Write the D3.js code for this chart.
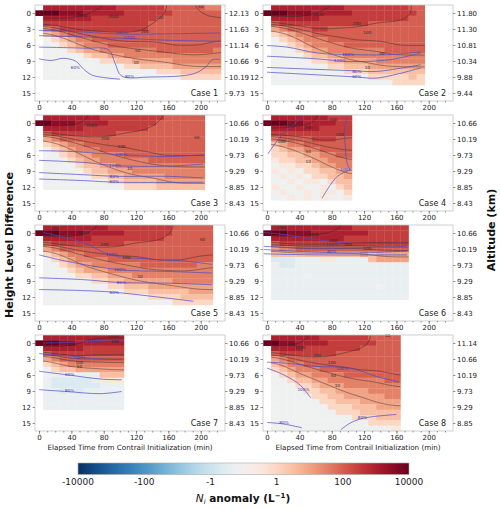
<!DOCTYPE html>
<html>
<head>
<meta charset="utf-8">
<script src="https://cdn.jsdelivr.net/npm/d3@7"></script>
<style>
  body { margin: 0; background: #fff; }
  svg { display: block; font-family: "DejaVu Sans", sans-serif; }
</style>
</head>
<body>
<svg id="chart" width="500" height="509"></svg>
<script>
// one column every 10 min (first column t=0), one row per height level (first row = -1)
// tokens: _ no data, . ~0, , 0.5, - -0.3, = -0.7, digit c -> 10^(c/2) per litre
const case1Grid = [
  "_ 6 6 6 6 6 6 6 6 6 5 5 5 5 5 5 4 4 4 4 4 3 3",
  "8 8 8 7 7 7 6 6 6 6 6 5 5 5 5 5 5 4 4 4 4 4 4",
  "_ 6 6 6 6 6 6 5 5 5 5 5 5 5 5 4 4 4 4 4 4 4 4",
  "_ 5 5 5 5 5 5 5 5 5 5 5 5 5 4 4 4 4 4 4 4 4 4",
  "_ 3 4 5 5 5 5 5 5 5 5 5 5 5 4 4 4 4 4 4 4 4 4",
  "_ 1 2 3 4 4 4 4 4 4 4 4 4 4 4 4 4 4 4 4 4 4 4",
  "_ . 0 1 2 3 3 4 4 4 4 4 4 4 4 4 4 4 4 4 4 4 4",
  "_ . . 0 1 2 3 3 3 4 4 4 4 4 4 4 4 4 4 4 4 4 4",
  "_ . . . 0 1 2 2 3 3 3 3 3 3 3 4 4 4 4 4 4 4 3",
  "_ . . . . . 0 1 1 2 2 3 3 3 3 3 3 3 3 3 3 3 3",
  "_ . . . . . . . 0 0 1 1 2 2 2 2 2 3 3 3 3 3 3",
  "_ . . . . . . . . . . 0 0 1 1 1 1 2 2 2 2 2 2",
  "_ . . . . . . . . . . . . . . 0 0 0 1 1 1 1 1",
  "_ . . . . . . . . . . . . . . . . . 0 0 0 0 0"
];
const case2Grid = [
  "_ 6 6 6 6 6 6 6 6 6 5 5 5 5 5 5 5 5 4 4",
  "8 8 8 7 7 7 6 6 6 6 6 5 5 5 5 5 5 5 5 4",
  "_ 6 6 6 6 6 6 5 5 5 5 5 5 5 5 5 5 5 4 4",
  "_ 4 5 5 5 5 5 5 5 5 5 5 5 4 4 4 4 4 4 4",
  "_ 2 3 4 4 4 5 5 4 4 4 4 4 4 4 4 4 4 4 4",
  "_ 0 1 2 3 3 4 4 4 4 4 4 4 4 4 4 4 4 4 4",
  "_ . 0 1 2 3 3 3 4 4 4 4 4 4 4 4 4 4 4 4",
  "_ . . 0 1 2 3 3 3 3 4 4 4 4 4 4 4 4 4 4",
  "_ . . . 0 1 2 2 3 3 3 3 3 3 3 4 4 4 4 4",
  "_ . . . . 0 1 1 2 2 3 3 3 3 3 3 3 3 3 3",
  "_ . . . . . 0 0 1 1 2 2 2 2 3 3 3 3 3 3",
  "_ . . . . . . . 0 0 1 1 1 2 2 2 2 2 2 2",
  "_ . . . . . . . . . 0 0 0 1 1 1 1 1 1 1",
  "_ . . . . . . . . . . . . 0 0 0 0 0 1 0",
  "_ . . . . . . . . . . . . . . . 0 0 0 0"
];
const case3Grid = [
  "_ 6 6 6 6 6 6 6 5 5 5 5 5 5 5 5 4 4 4 4 4",
  "8 8 7 7 7 6 6 6 6 5 5 5 5 5 5 4 4 4 4 4 4",
  "_ 6 6 6 6 6 5 5 5 5 5 5 5 5 4 4 4 4 4 4 4",
  "_ 4 5 5 5 5 5 5 5 5 4 4 4 4 4 4 4 4 4 4 4",
  "_ 2 3 4 4 4 4 4 4 4 4 4 4 4 4 4 4 4 4 4 4",
  "_ 0 1 2 3 3 4 4 4 4 4 4 4 4 4 4 4 4 4 4 4",
  "_ . 0 1 2 3 3 3 4 4 4 4 4 4 4 4 4 4 4 4 4",
  "_ . . 0 1 2 2 3 3 3 3 4 4 4 4 4 4 4 4 4 4",
  "_ . . . 0 1 2 2 3 3 3 3 3 3 4 4 4 4 4 4 4",
  "_ . . . . 0 1 1 2 2 3 3 3 3 3 3 3 3 3 3 3",
  "_ . . . . . 0 1 1 2 2 2 3 3 3 3 3 3 3 3 3",
  "_ . . . . . . 0 0 1 1 2 2 2 2 2 3 3 3 3 3",
  "_ . . . . . . . . 0 0 1 1 1 1 2 2 2 2 2 2",
  "_ . . . . . . . . . . 0 0 0 0 1 1 1 1 1 1"
];
const case4Grid = [
  "_ 6 6 6 6 6 6 6 5 5 5",
  "8 8 8 7 7 6 6 6 6 5 5",
  "_ 6 6 6 6 6 6 5 5 5 5",
  "_ 5 5 5 5 5 5 5 5 5 5",
  "_ 3 4 4 4 4 5 5 5 4 4",
  "_ 1 2 3 3 4 4 4 4 4 4",
  "_ 0 1 2 2 3 3 4 4 4 4",
  "_ 0 0 1 1 2 2 3 3 4 4",
  "_ , 0 0 1 1 2 2 3 3 3",
  "_ . , , 0 0 1 2 2 3 3",
  "_ , . , . 0 0 1 1 2 2",
  "_ . , . , . 0 0 1 1 2",
  "_ . . , . , , . 0 1 1",
  "_ , . . , . . , . 0 1",
  "_ . , . . , . , , . 0",
  "_ . . , . , . , . . ,"
];
const case5Grid = [
  "_ 6 6 6 6 6 6 6 6 5 5 5 5 5 5 5 5 4 4 4 4 4",
  "8 8 8 7 7 7 6 6 6 6 6 5 5 5 5 5 5 4 4 4 4 4",
  "_ 6 6 6 6 6 6 5 5 5 5 5 5 5 5 5 4 4 4 4 4 4",
  "_ 4 5 5 5 5 5 5 5 5 5 4 4 4 4 4 4 4 4 4 4 4",
  "_ 2 3 4 4 4 4 4 4 4 4 4 4 4 4 4 4 4 4 4 4 4",
  "_ 0 1 2 3 3 4 4 4 4 4 4 4 4 4 4 4 4 4 4 4 4",
  "_ . 0 1 2 3 3 3 3 4 4 4 4 4 4 4 4 4 4 4 4 4",
  "_ . . 0 1 2 2 3 3 3 3 3 3 4 4 4 4 4 4 4 3 3",
  "_ . . . 0 1 2 2 2 3 3 3 3 3 3 3 3 3 3 3 3 3",
  "_ . . . . 0 0 1 1 2 2 2 3 3 3 3 3 3 3 3 3 3",
  "_ . . . . . . 0 0 1 1 2 2 2 2 2 2 3 3 3 3 3",
  "_ . . . . . . . . 0 0 1 1 1 2 2 2 2 2 2 2 2",
  "_ . . . . . . . . . . 0 0 0 1 1 1 1 1 2 2 2",
  "_ . . . . . . . . . . . . . 0 0 0 0 1 1 1 1",
  "_ . . . . . . . . . . . . . . . . 0 0 0 0 0"
];
const case6Grid = [
  "_ 6 6 6 6 6 6 6 6 6 6 5 5 5 5 5 5 5",
  "8 8 8 7 7 7 6 6 6 6 6 6 6 5 5 5 5 5",
  "_ 6 6 6 6 6 6 6 6 6 5 5 5 5 5 5 5 5",
  "_ 4 5 5 5 5 5 5 5 5 5 5 5 5 5 5 5 5",
  "_ 2 3 3 4 4 4 4 4 4 4 4 4 4 4 4 4 4",
  "_ 1 1 1 1 1 1 1 1 1 1 1 2 1 2 2 2 2",
  "_ = = = - - - , , - - - - 1 2 2 2 2",
  "_ - = = - - - - - - - - - - - - - -",
  "_ - - - - - - - - - - - - - - - - -",
  "_ - - - - . - - - - - - - - - - - -",
  "_ - - - - - - - - - - - - - - - - -",
  "_ - - - - - - - - - - - - - . - - -",
  "_ - - - - - - - - - - - - - - - - -",
  "_ - - - - - - - - - - - - - - - - -"
];
const case7Grid = [
  "_ 6 6 6 6 6 6 6 6 6 6",
  "8 8 8 7 7 6 6 6 6 6 6",
  "_ 6 6 6 6 6 5 5 5 5 5",
  "_ 4 5 5 5 5 5 5 5 5 5",
  "_ 2 3 4 4 4 4 4 4 4 4",
  "_ 0 1 2 3 3 3 3 3 3 3",
  "_ . 0 1 1 2 2 2 2 2 2",
  "_ . - - - - - - 1 1 1",
  "_ - = = = = = - , , ,",
  "_ - = = = = = = - - -",
  "_ - - = - = - - - - -",
  "_ - - - - - - - - - -",
  "_ - - - - - - - - - -",
  "_ - - - - - - - - - -"
];
const case8Grid = [
  "_ 6 6 6 6 6 6 5 5 5 5 5 5 4 4 4 4",
  "8 8 7 7 6 6 6 6 5 5 5 5 5 5 4 4 4",
  "_ 6 6 6 6 5 5 5 5 5 5 5 4 4 4 4 4",
  "_ 4 5 5 5 5 5 5 5 4 4 4 4 4 4 4 4",
  "_ 2 3 4 4 4 4 4 4 4 4 4 4 4 4 4 4",
  "_ 1 2 3 3 4 4 4 4 4 4 4 4 4 4 4 4",
  "_ 0 1 2 3 3 3 4 4 4 4 4 4 4 4 4 4",
  "_ . 0 1 2 2 3 3 3 3 4 4 4 4 4 4 4",
  "_ . . 0 1 1 2 2 3 3 3 3 3 3 3 4 4",
  "_ . . . 0 0 1 2 2 2 3 3 3 3 3 3 3",
  "_ . . . . 0 0 1 1 2 2 2 2 3 3 3 3",
  "_ . . . . . 0 0 1 1 2 2 2 2 2 3 3",
  "_ . . . . . . 0 0 1 1 1 2 2 2 2 2",
  "_ . . . . . . . 0 0 0 1 1 1 2 2 2",
  "_ . . . . . . . . 0 0 0 1 1 1 1 1",
  "_ . . . . . . . . . . 0 0 0 1 1 1",
  "_ . . . . . . . . . . . . 0 0 0 0",
  "_ . . . . . . . . . . . . . . . ,"
];

// altitude (km) at height levels 0, 3, 6, 9, 12, 15
const case1Alt = ["12.13", "11.63", "11.14", "10.66", "10.19", "9.73"];
const case2Alt = ["11.80", "11.30", "10.81", "10.34", "9.88", "9.44"];
const lowAlt = ["10.66", "10.19", "9.73", "9.29", "8.85", "8.43"];
const case8Alt = ["11.14", "10.66", "10.19", "9.73", "9.29", "8.85"];

// RHi contours, [time (min), height level]
const case1Rhi = [
  [[0, 3.25], [34, 3.4], [102, 3.95], [158, 3.9], [224, 3.75]],
  [[0, 4.25], [55, 4.5], [112, 4.8], [158, 5.1], [224, 5.3]],
  [[0, 6.4], [55, 6.6], [86, 6.9], [94, 9.4], [102, 11.8], [137, 12.0], [191, 11.4], [207, 10], [214, 8.75], [224, 8.7]],
  [[0, 8.6], [15, 8.9], [30, 8.5], [45, 9.0], [55, 10.5], [65, 11.6], [80, 12.1], [100, 12.4]]
];
const case2Rhi = [
  [[0, 6.1], [25, 6.4], [62, 7.5], [103, 7.8], [152, 7.8], [190, 7.3]],
  [[0, 8.1], [62, 8.6], [103, 9.1], [152, 8.75], [190, 7.5]],
  [[0, 10.2], [41, 10.45], [103, 10.8], [136, 10.95], [190, 9.7]],
  [[0, 11.1], [62, 11.6], [111, 12.0], [136, 12.2], [190, 10.3]]
];
const case3Rhi = [
  [[0, 5.2], [34, 5.3], [102, 5.95], [158, 6.3], [203, 5.95]],
  [[0, 7.0], [55, 7.4], [96, 8.0], [158, 8.1], [203, 7.7]],
  [[0, 9.3], [55, 9.7], [96, 10.0], [158, 10.0], [203, 10.3]],
  [[0, 10.5], [55, 10.8], [96, 11.1], [203, 11.1]]
];
const case4Rhi = [
  [[1, 5.8], [18.5, 2.2], [33, 0.3], [45, -1.3]],
  [[99, -1.25], [96, 1.25], [97, 5.0], [99, 7.5], [103, 8.8]],
  [[103, 8.8], [87, 10.0], [68, 14.1]]
];
const case5Rhi = [
  [[5, -0.1], [55, 1.8], [88, 4.1], [137, 4.9], [183, 5.3], [214, 5.9]],
  [[0, 4.1], [34, 5.3], [100, 6.9], [158, 7.2], [214, 7.5]],
  [[0, 8.4], [55, 8.75], [102, 9.3], [158, 9.4], [214, 9.7]],
  [[0, 10.6], [55, 10.8], [92, 11.1], [141, 11.9], [191, 12.8]]
];
const case6Rhi = [
  [[-4, -0.1], [21, 0.3], [62, 1.25], [103, 1.9], [173, 1.9]],
  [[-4, 2.5], [41, 2.8], [103, 2.8], [173, 2.5]],
  [[-4, 3.1], [62, 3.6], [103, 3.75], [173, 3.4]],
  [[-4, 3.9], [62, 4.1], [173, 4.1]]
];
const case7Rhi = [
  [[5, 0], [34, -0.1], [76, -0.5], [105, -0.6]],
  [[0, 2.0], [34, 2.4], [76, 3.0], [102, 3.1]],
  [[0, 5.3], [34, 5.95], [76, 6.75], [102, 6.9]],
  [[0, 8.75], [34, 9.1], [76, 9.5], [102, 9.1]]
];
const case8Rhi = [
  [[0, 3.6], [21, 3.75], [62, 4.4], [103, 4.7], [136, 6.3], [163, 7.3]],
  [[0, 4.7], [21, 6.0], [41, 7.9], [54, 10.3]],
  [[0, 14.9], [21, 15.2], [43, 15.9]],
  [[91, 16.3], [103, 15.0], [119, 14.1], [160, 13.4]]
];

// inline contour labels: [time, level, text, k = Ni / b = RHi]
const case1Labels = [[53, 0.4, "1000", "k"], [92, 0.7, "2000", "k"], [149, 0.9, "100", "k"], [200, -1.2, "50", "k"],
  [131, 3.5, "200", "k"], [102, 3.6, "100%", "b"], [112, 4.6, "120%", "b"], [122, 7.0, "50", "k"],
  [120, 9.2, "10", "k"], [112, 11.9, "80%", "b"], [45, 10.3, "60%", "b"]];
const case2Labels = [[63, 0.3, "1000", "k"], [111, 2, "200", "k"], [124, 3.6, "100", "k"], [142, 7.6, "50", "k"],
  [124, 10.2, "10", "k"], [100, 7.8, "100%", "b"], [90, 9, "120%", "b"], [111, 10.9, "80%", "b"], [111, 12, "60%", "b"]];
const case3Labels = [[65, 0.5, "1000", "k"], [82, 2.9, "200", "k"], [102, 4.4, "100", "k"], [195, 2.7, "50", "k"],
  [102, 6.0, "100%", "b"], [94, 8, "120%", "b"], [112, 8.6, "10", "k"], [93, 10, "80%", "b"], [93, 10.9, "60%", "b"]];
const case4Labels = [[29, 0.5, "1000", "k"], [51, 0.9, "200", "k"], [82, -0.6, "100", "k"], [90, 2.2, "200", "k"],
  [18, 3.4, "100", "k"], [51, 5.4, "50", "k"], [51, 7.3, "10", "k"], [98, 8.7, "100%", "b"]];
const case5Labels = [[20, -0.8, "200", "k"], [55, 0, "1000", "k"], [81, 2.2, "200", "k"], [90, 4.0, "100%", "b"],
  [108, 4.6, "100", "k"], [202, 1.3, "50", "k"], [100, 6.9, "100%", "b"], [125, 8.1, "10", "k"],
  [102, 9.3, "80%", "b"], [93, 11.1, "60%", "b"]];
const case6Labels = [[18, -1.0, "200", "k"], [58, 0.2, "1000", "k"], [82, 1.4, "200", "k"], [124, 3.0, "100", "k"],
  [80, 2.2, "100%", "b"], [80, 3.4, "80%", "b"], [100, 2.2, "200", "k"]];
const case7Labels = [[92, -1.2, "1000", "k"], [94, -0.3, "100", "k"], [40, 0.3, "1000", "k"], [66, -0.3, "100%", "b"],
  [50, 2.8, "100%", "b"], [50, 3.6, "100", "k"], [50, 4.4, "50", "k"], [38, 5.9, "60%", "b"], [38, 9.0, "80%", "b"]];
const case8Labels = [[31, 0.3, "200", "k"], [41, 0.8, "1000", "k"], [62, 2.4, "200", "k"], [80, 3.6, "100", "k"],
  [82, 6.1, "50", "k"], [87, 7.9, "10", "k"], [149, -1.4, "10", "k"], [93, 4.7, "100%", "b"],
  [45, 8.8, "100%", "b"], [21, 15.0, "80%", "b"], [118, 14.0, "80%", "b"]];

const contourLevels = [10, 50, 100, 200, 1000];
const levelTicks = [0, 3, 6, 9, 12, 15];
const timeTicks = [0, 40, 80, 120, 160, 200];
const cbTicks = ["-10000", "-100", "-1", "1", "100", "10000"];

const panels = [
  { name: "Case 1", grid: case1Grid, alt: case1Alt, rhi: case1Rhi, labels: case1Labels },
  { name: "Case 2", grid: case2Grid, alt: case2Alt, rhi: case2Rhi, labels: case2Labels },
  { name: "Case 3", grid: case3Grid, alt: lowAlt, rhi: case3Rhi, labels: case3Labels },
  { name: "Case 4", grid: case4Grid, alt: lowAlt, rhi: case4Rhi, labels: case4Labels },
  { name: "Case 5", grid: case5Grid, alt: lowAlt, rhi: case5Rhi, labels: case5Labels },
  { name: "Case 6", grid: case6Grid, alt: lowAlt, rhi: case6Rhi, labels: case6Labels },
  { name: "Case 7", grid: case7Grid, alt: lowAlt, rhi: case7Rhi, labels: case7Labels },
  { name: "Case 8", grid: case8Grid, alt: case8Alt, rhi: case8Rhi, labels: case8Labels }
];

function decode(tok) {
  if (tok === undefined || tok === "_") return null;
  if (tok === ".") return -0.1;
  if (tok === ",") return 0.5;
  if (tok === "-") return -0.3;
  if (tok === "=") return -0.7;
  return Math.pow(10, +tok / 2);
}

// symlog-like position on the colour bar (0..1)
function cbPos(v) {
  if (v >= 1) return 0.6 + 0.1 * Math.log10(v);
  if (v <= -1) return 0.4 - 0.1 * Math.log10(-v);
  return 0.5 + 0.1 * v;
}
const color = v => d3.interpolateRdBu(1 - Math.max(0, Math.min(1, cbPos(v))));
const logCode = v => (v !== null && v >= 1) ? 2 * Math.log10(v) : -1;

const svg = d3.select("#chart");
const defs = svg.append("defs");

const PW = 190, PH = 96;

panels.forEach((p, i) => {
  const col = i % 2, row = Math.floor(i / 2);
  const x0 = col ? 263 : 35, y0 = 5 + 110 * row;
  const x = d3.scaleLinear().domain([-5, 230]).range([x0, x0 + PW]);
  const y = d3.scaleLinear().domain([-1.5, 16.5]).range([y0, y0 + PH]);
  const g = svg.append("g");

  const rows = p.grid.map(s => s.trim().split(/\s+/));
  const cells = [];
  rows.forEach((toks, ri) => toks.forEach((tk, ci) => {
    const v = decode(tk);
    if (v !== null) cells.push({ t: ci * 10, lev: ri - 1, v });
  }));

  g.append("g").selectAll("rect").data(cells).join("rect")
    .attr("x", d => x(d.t - 5))
    .attr("y", d => y(d.lev - 0.5))
    .attr("width", x(10) - x(0) + 0.3)
    .attr("height", y(1) - y(0) + 0.3)
    .attr("fill", d => color(d.v));

  // Ni contours from the grid (t=0 column left out), edges padded so nothing runs along the border
  const nx = rows[0].length - 1, ny = rows.length;
  const vals = [];
  for (let k = 0; k < ny + 2; k++) {
    for (let c = 0; c < nx + 2; c++) {
      const ri = Math.min(ny - 1, Math.max(0, k - 1));
      const ci = 1 + Math.min(nx - 1, Math.max(0, c - 1));
      vals.push(logCode(decode(rows[ri][ci])));
    }
  }
  if (d3.blur2) d3.blur2({ data: vals, width: nx + 2, height: ny + 2 }, 0.7);
  const conts = d3.contours().size([nx + 2, ny + 2])
    .thresholds(contourLevels.map(v => 2 * Math.log10(v) - 0.15))(vals);

  const proj = d3.geoTransform({
    point(gx, gy) { this.stream.point(x(10 * gx - 5), y(gy - 2.5)); }
  });
  const path = d3.geoPath(proj);

  defs.append("clipPath").attr("id", "cd" + i).append("rect")
    .attr("x", x(5)).attr("y", y(-1.5))
    .attr("width", x(10 * nx + 5) - x(5)).attr("height", y(ny - 1.5) - y(-1.5));
  defs.append("clipPath").attr("id", "cf" + i).append("rect")
    .attr("x", x0).attr("y", y0).attr("width", PW).attr("height", PH);

  g.append("g").attr("clip-path", `url(#cd${i})`)
    .selectAll("path").data(conts).join("path")
    .attr("d", path)
    .attr("fill", "none")
    .attr("stroke", "#2a2a2a")
    .attr("stroke-opacity", 0.8)
    .attr("stroke-width", 0.55)
    .attr("stroke-linejoin", "round");

  const line = d3.line().x(d => x(d[0])).y(d => y(d[1])).curve(d3.curveCatmullRom);
  g.append("g").attr("clip-path", `url(#cf${i})`)
    .selectAll("path").data(p.rhi).join("path")
    .attr("d", line)
    .attr("fill", "none")
    .attr("stroke", "#4b4bc8")
    .attr("stroke-width", 0.7);

  g.append("g").selectAll("text").data(p.labels).join("text")
    .attr("x", d => x(d[0])).attr("y", d => y(d[1]))
    .attr("dy", "0.35em")
    .attr("text-anchor", "middle")
    .attr("font-size", 4.2)
    .attr("fill", d => d[3] === "b" ? "#3c3cb4" : "#2a2a2a")
    .text(d => d[2]);

  g.append("rect")
    .attr("x", x0).attr("y", y0).attr("width", PW).attr("height", PH)
    .attr("fill", "none").attr("stroke", "#c4c4c4").attr("stroke-width", 0.8);

  const styleAxis = a => {
    a.select(".domain").remove();
    a.selectAll("line").attr("stroke", "#555").attr("stroke-width", 0.6);
    a.selectAll("text").attr("font-size", 7).attr("fill", "#222").attr("font-family", "DejaVu Sans");
  };

  g.append("g").attr("transform", `translate(${x0},0)`)
    .call(d3.axisLeft(y).tickValues(levelTicks).tickSize(2.5).tickPadding(1.5))
    .call(styleAxis);
  g.append("g").attr("transform", `translate(${x0 + PW},0)`)
    .call(d3.axisRight(y).tickValues(levelTicks).tickSize(2.5).tickPadding(1.5).tickFormat((d, k) => p.alt[k]))
    .call(styleAxis);
  g.append("g").attr("transform", `translate(0,${y0 + PH})`)
    .call(d3.axisBottom(x).tickValues(d3.range(0, 230, 10)).tickSize(1.5).tickFormat(""))
    .call(styleAxis);
  g.append("g").attr("transform", `translate(0,${y0 + PH})`)
    .call(d3.axisBottom(x).tickValues(timeTicks).tickSize(3).tickPadding(1.5))
    .call(styleAxis);

  g.append("text")
    .attr("x", x0 + PW - 7).attr("y", y0 + 91)
    .attr("text-anchor", "end")
    .attr("font-size", 8).attr("fill", "#222")
    .text(p.name);

  if (row === 3) {
    g.append("text")
      .attr("x", x0 + PW / 2).attr("y", 449.5)
      .attr("text-anchor", "middle")
      .attr("font-size", 7.2).attr("fill", "#222")
      .text("Elapsed Time from Contrail Initialization (min)");
  }
});

svg.append("text")
  .attr("transform", "translate(13,245) rotate(-90)")
  .attr("text-anchor", "middle")
  .attr("font-size", 11).attr("font-weight", "bold").attr("fill", "#111")
  .text("Height Level Difference");
svg.append("text")
  .attr("transform", "translate(495,230) rotate(-90)")
  .attr("text-anchor", "middle")
  .attr("font-size", 11).attr("font-weight", "bold").attr("fill", "#111")
  .text("Altitude (km)");

// colour bar
const cb = d3.scaleLinear().domain([0, 1]).range([78, 409]);
const grad = defs.append("linearGradient").attr("id", "cbgrad");
grad.selectAll("stop").data(d3.range(0, 1.0001, 0.02)).join("stop")
  .attr("offset", d => d)
  .attr("stop-color", d => d3.interpolateRdBu(1 - d));
svg.append("rect")
  .attr("x", cb(0)).attr("y", 463).attr("width", cb(1) - cb(0)).attr("height", 11.5)
  .attr("fill", "url(#cbgrad)").attr("stroke", "#aaa").attr("stroke-width", 0.6);
svg.append("g").selectAll("text").data(cbTicks).join("text")
  .attr("x", (d, k) => cb(k / 5)).attr("y", 485)
  .attr("text-anchor", "middle")
  .attr("font-size", 9).attr("fill", "#222")
  .text(d => d);

const title = svg.append("text")
  .attr("x", 243).attr("y", 502)
  .attr("text-anchor", "middle")
  .attr("font-size", 10.5).attr("fill", "#111");
title.append("tspan").attr("font-style", "italic").text("N");
title.append("tspan").attr("font-style", "italic").attr("font-size", 7).attr("dy", 2).text("i");
title.append("tspan").attr("font-weight", "bold").attr("dy", -2).text(" anomaly (L");
title.append("tspan").attr("font-weight", "bold").attr("font-size", 7).attr("dy", -4).text("\u22121");
title.append("tspan").attr("font-weight", "bold").attr("dy", 4).text(")");
</script>
</body>
</html>
